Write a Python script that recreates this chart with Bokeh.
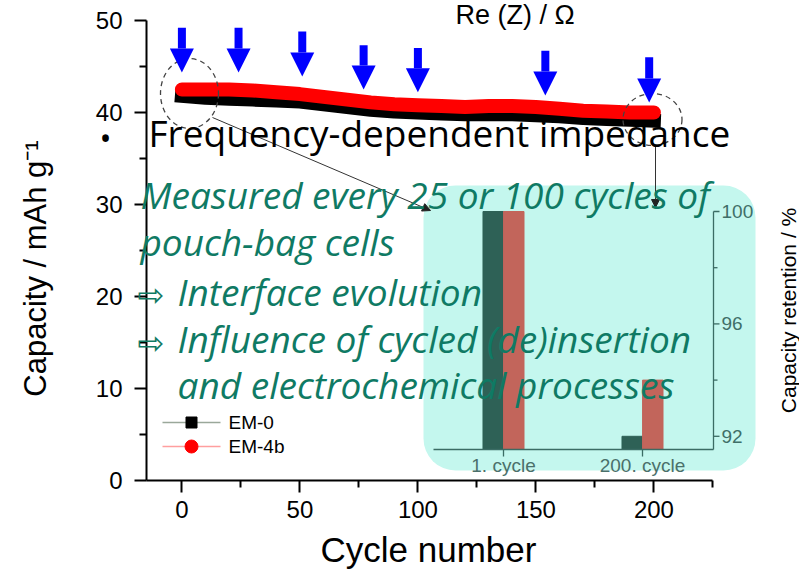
import numpy as np
from bokeh.plotting import figure
from bokeh.models import (Range1d, FixedTicker, Label, BoxAnnotation, Arrow, NormalHead,
                          ColumnDataSource, LinearAxis)
from bokeh.embed import file_html
from bokeh.resources import INLINE
from bokeh.core.properties import value

# ---------------- data ----------------
cycles = [0, 10, 20, 30, 40, 50, 60, 70, 80, 90, 100, 110, 120, 130, 140, 150, 160, 170, 180, 190, 200]
em0 = [41.8, 41.6, 41.5, 41.4, 41.3, 41.2, 40.9, 40.6, 40.3, 40.1, 40.0, 39.9, 39.8, 39.8, 39.8, 39.7, 39.6, 39.4, 39.3, 39.2, 39.1]
em4b = [42.5, 42.5, 42.5, 42.4, 42.2, 42.0, 41.7, 41.4, 41.1, 40.9, 40.8, 40.7, 40.6, 40.7, 40.7, 40.6, 40.4, 40.2, 40.1, 40.0, 40.0]
series_names = ["EM-0", "EM-4b"]

arrow_cycles = [0, 24, 51, 77, 100, 154, 198]
arrow_top = [49.2, 49.2, 48.8, 47.3, 47.0, 46.7, 46.0]
arrow_tip = [44.35, 44.35, 43.9, 42.5, 42.2, 41.85, 41.1]

inset_categories = ["1. cycle", "200. cycle"]
retention_em0 = [100.0, 92.0]
retention_em4b = [100.0, 94.0]

x_ticks = [0, 50, 100, 150, 200]
x_minor = [25, 75, 125, 175, 225]
y_ticks = [0, 10, 20, 30, 40, 50]
y_minor = [5, 15, 25, 35, 45]
ret_ticks = [92, 96, 100]
ret_minor = [94, 98]

# ------------- pixel helpers for decorations -------------
def X(px):
    return -15 + (px - 146) / 2.36

def Y(py):
    return (480 - py) / 9.2

p = figure(width=799, height=572, output_backend="svg", toolbar_location=None,
           x_range=Range1d(X(0), X(799)), y_range=Range1d(Y(572), Y(0)),
           x_axis_location=None, y_axis_location=None,
           min_border_left=0, min_border_right=0, min_border_top=0, min_border_bottom=0)
p.outline_line_color = None
p.xgrid.visible = False
p.ygrid.visible = False
p.background_fill_color = "white"
p.border_fill_color = "white"

p.extra_x_ranges = {"ins": Range1d(1 - 503 / 139, 1 + (799 - 503) / 139)}
p.extra_y_ranges = {"ret": Range1d(100 - (572 - 211) / 28.1, 100 + 211 / 28.1)}
ret_base = 100 - 238 / 28.1

xax = LinearAxis(fixed_location=0)
yax = LinearAxis(fixed_location=-15)
for ax, tk, mn, bd in ((xax, x_ticks, x_minor, (-15, 225)), (yax, y_ticks, y_minor, (0, 50))):
    ax.ticker = FixedTicker(ticks=tk, minor_ticks=mn)
    ax.bounds = bd
    ax.axis_line_width = 2
    ax.axis_line_color = "black"
    ax.major_tick_line_width = 2
    ax.minor_tick_line_width = 2
    ax.major_tick_in = 0
    ax.minor_tick_in = 0
    ax.major_tick_out = 12
    ax.minor_tick_out = 7
    ax.major_label_text_font = "Liberation Sans"
    ax.major_label_text_font_size = "24px"
    ax.major_label_text_color = "black"
yax.major_label_standoff = 12
xax.major_label_standoff = 8
p.add_layout(xax, "below")
p.add_layout(yax, "left")

# cyan box behind inset
p.add_layout(BoxAnnotation(left=X(423), right=X(755), top=Y(185), bottom=Y(470),
                           fill_color="#c4f7ee", fill_alpha=1.0, line_color=None,
                           border_radius=32, level="underlay"))

# ---------------- inset (bars) ----------------
idx = np.arange(1, len(inset_categories) + 1)
p.vbar(x=idx - 0.074, top=retention_em0, bottom=ret_base, width=0.147, color="#2e6156",
       x_range_name="ins", y_range_name="ret")
p.vbar(x=idx + 0.074, top=retention_em4b, bottom=ret_base, width=0.147, color="#c2655b",
       x_range_name="ins", y_range_name="ret")
axc = "#3b6c64"
p.segment(x0=[X(433)], y0=[ret_base], x1=[X(713)], y1=[ret_base], line_color=axc, line_width=1.3,
          y_range_name="ret")
p.segment(x0=[X(713)], y0=[ret_base], x1=[X(713)], y1=[100], line_color=axc, line_width=1.3,
          y_range_name="ret")
p.segment(x0=[X(713)] * len(ret_ticks), y0=ret_ticks, x1=[X(719)] * len(ret_ticks), y1=ret_ticks,
          line_color=axc, line_width=1.3, y_range_name="ret")
p.segment(x0=[X(713)] * len(ret_minor), y0=ret_minor, x1=[X(717)] * len(ret_minor), y1=ret_minor,
          line_color=axc, line_width=1.3, y_range_name="ret")
p.text(x=[X(721)] * len(ret_ticks), y=ret_ticks, text=[str(t) for t in ret_ticks],
       text_font=value("Liberation Sans"), text_font_size="19px", text_color="#3f6f68",
       text_baseline="middle", text_align="left", y_range_name="ret")
p.segment(x0=idx, y0=[ret_base] * len(idx), x1=idx, y1=[ret_base - 0.25] * len(idx),
          line_color=axc, line_width=1.3, x_range_name="ins", y_range_name="ret")
p.text(x=idx, y=[ret_base] * len(idx), text=inset_categories, y_offset=5,
       text_font=value("Liberation Sans"), text_font_size="19px", text_color="#4a706a",
       text_baseline="top", text_align="center", x_range_name="ins", y_range_name="ret")

# ---------------- main series ----------------
p.line(cycles, em0, line_width=14, color="black", line_cap="square", line_join="round")
p.line(cycles, em4b, line_width=14, color="red", line_cap="round", line_join="round")

# dashed ellipses and connectors
p.ellipse(x=[X(189), X(652)], y=[Y(93), Y(119)], width=[58 / 2.36, 59 / 2.36], height=[70 / 9.2, 52 / 9.2],
          fill_color=None, line_color="#444444", line_dash="5 4", line_width=1.3)
conn = ColumnDataSource(dict(x0=[X(212), X(655)], y0=[Y(117), Y(145)], x1=[X(430), X(655)], y1=[Y(210), Y(207)]))
p.add_layout(Arrow(x_start="x0", y_start="y0", x_end="x1", y_end="y1", source=conn,
                   line_color="#333333", line_width=1,
                   end=NormalHead(size=8, fill_color="#222222", line_color="#222222")))

# blue arrows
asrc = ColumnDataSource(dict(x0=arrow_cycles, y0=arrow_top, x1=arrow_cycles, y1=arrow_tip))
p.add_layout(Arrow(x_start="x0", y_start="y0", x_end="x1", y_end="y1", source=asrc,
                   line_color="blue", line_width=8,
                   end=NormalHead(size=24, fill_color="blue", line_color="blue", line_width=0)))

# legend (drawn)
ly = [Y(422), Y(446)]
p.segment(x0=[X(162)], y0=[ly[0]], x1=[X(220)], y1=[ly[0]], line_color="#9aa89a", line_width=1.3)
p.segment(x0=[X(162)], y0=[ly[1]], x1=[X(220)], y1=[ly[1]], line_color="#ff9f9f", line_width=1.6)
p.scatter(x=[X(191)], y=[ly[0]], marker="square", size=11, color="black")
p.scatter(x=[X(191)], y=[ly[1]], marker="circle", size=13, color="red")
p.text(x=[X(228)] * 2, y=ly, text=series_names, text_font=value("Liberation Sans"), text_font_size="19px",
       text_color="black", text_baseline="middle", text_align="left")

# ---------------- texts ----------------
def lab(txt, xpx, ypx, size, color="black", font="Liberation Sans", style="normal", align="left",
        baseline="alphabetic", angle=0):
    if baseline == "alphabetic":
        ypx = ypx - 0.37 * size
    p.add_layout(Label(x=X(xpx), y=Y(ypx), text=txt, text_font=font, text_font_size=f"{size}px",
                       text_color=color, text_font_style=style, text_align=align,
                       text_baseline=baseline, angle=angle))

lab("Re (Z) / \u03a9", 455, 24, 27)
lab("Cycle number", 428, 562, 35, align="center")
lab("Capacity / mAh g\u207b\u00b9", 35, 268, 31, align="center", baseline="middle", angle=np.pi / 2)
lab("Capacity retention / %", 788, 310, 21, align="center", baseline="middle", angle=np.pi / 2)

lab("\u2022", 105, 137, 32, font="Open Sans", align="center", baseline="middle")
lab("Frequency-dependent impedance", 148, 146, 37, font="Open Sans")

green = "#0f7a64"
gf = "Open Sans"
lab("Measured every 25 or 100 cycles of", 140, 208, 37, color=green, font=gf, style="italic")
lab("pouch-bag cells", 140, 255, 37, color=green, font=gf, style="italic")
lab("\u21e8", 137, 294, 32, color=green, font="DejaVu Sans", baseline="middle")
lab("Interface evolution", 177, 305, 37, color=green, font=gf, style="italic")
lab("\u21e8", 137, 342, 32, color=green, font="DejaVu Sans", baseline="middle")
lab("Influence of cycled (de)insertion", 177, 352, 37, color=green, font=gf, style="italic")
lab("and electrochemical processes", 177, 398, 37, color=green, font=gf, style="italic")

open("out.html", "w").write(file_html(p, INLINE))
